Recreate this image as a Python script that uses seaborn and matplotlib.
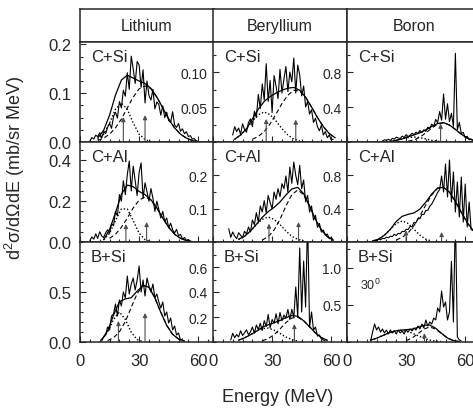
import numpy as np
import matplotlib
matplotlib.use("Agg")
import matplotlib.pyplot as plt
import seaborn as sns
from matplotlib.ticker import MultipleLocator

sns.set_style("ticks")
plt.rcParams['font.family'] = ['Liberation Sans', 'DejaVu Sans']
plt.rcParams['mathtext.fontset'] = 'custom'
plt.rcParams['mathtext.rm'] = 'Liberation Sans'
plt.rcParams['mathtext.default'] = 'regular'
plt.rcParams['axes.linewidth'] = 1.1

elements = ["Lithium", "Beryllium", "Boron"]
systems = ["C+Si", "C+Al", "B+Si"]

# measured spectra, 1 MeV bins starting at spec_start (mb/sr MeV)
spec_li_csi = [.002, .009, .006, .014, .011, .019, .008, .021, .017, .030, .038, .028, .052, .061, .049, .083,
               .070, .106, .094, .142, .108, .176, .150, .120, .165, .158, .112, .148, .080, .125, .095, .086,
               .108, .068, .082, .077, .055, .074, .050, .061, .044, .040, .062, .035, .030, .038, .022, .027,
               .017, .021, .011, .013, .006, .007, .002]
spec_be_csi = [.010, .022, .015, .020, .011, .026, .018, .014, .028, .033, .022, .044, .035, .068, .048, .083,
               .060, .112, .058, .088, .042, .095, .080, .062, .104, .070, .090, .108, .072, .100, .086, .120,
               .070, .110, .096, .066, .080, .050, .058, .040, .046, .028, .034, .022, .016, .024, .010, .015,
               .006, .010, .003, .004]
spec_b_csi = [.012, .025, .020, .030, .018, .042, .033, .055, .046, .040, .068, .050, .085, .062, .078, .100,
              .084, .112, .098, .132, .108, .140, .122, .170, .155, .205, .180, .260, .222, .350, .250, .552,
              .262, .440, .236, .330, .180, 1.02, .140, .225, .098, .110, .050, .066, .025, .035]
spec_li_cal = [.005, .025, .014, .040, .018, .050, .030, .022, .045, .060, .042, .090, .080, .150, .128, .232,
               .200, .300, .232, .330, .397, .250, .372, .300, .228, .340, .388, .214, .290, .246, .200, .262,
               .215, .150, .200, .160, .118, .150, .100, .118, .070, .092, .060, .044, .062, .030, .038, .014,
               .022, .008, .012, .004]
spec_be_cal = [.040, .014, .030, .018, .010, .028, .020, .012, .032, .024, .045, .030, .066, .052, .088, .060,
               .108, .090, .124, .088, .140, .118, .100, .150, .128, .160, .136, .175, .160, .198, .150, .225,
               .176, .240, .200, .172, .230, .160, .186, .120, .140, .090, .108, .066, .080, .044, .056, .030,
               .036, .020, .024, .010, .014, .004]
spec_b_cal = [.012, .022, .016, .034, .026, .044, .040, .058, .050, .070, .064, .092, .078, .104, .098, .128,
              .124, .152, .150, .186, .184, .236, .232, .282, .280, .330, .330, .378, .380, .430, .456, .500,
              .546, .596, .628, .792, .600, .936, .540, .984, .480, .840, .360, .720, .300, .780, .240, .696,
              .180, .480, .144]
spec_li_bsi = [.01, .05, .07, .15, .12, .26, .28, .38, .26, .42, .36, .50, .44, .66, .48, .58, .64, .52, .62,
               .76, .50, .62, .46, .64, .56, .50, .58, .44, .48, .40, .34, .40, .26, .30, .19, .24, .12, .16,
               .07, .09, .02, .03]
spec_be_bsi = [.016, .070, .034, .060, .040, .090, .052, .072, .098, .058, .080, .120, .070, .136, .100, .150,
               .092, .170, .124, .220, .112, .180, .150, .226, .146, .236, .170, .216, .190, .260, .180, .262,
               .196, .440, .200, .752, .240, .648, .280, 1.0, .120, .240, .096, .120, .048, .056, .024, .016,
               .008]
spec_b_bsi = [.014, .135, .243, .162, .203, .135, .176, .122, .162, .108, .162, .122, .149, .108, .162, .122,
              .149, .108, .162, .135, .176, .149, .189, .162, .216, .176, .243, .189, .297, .216, .270, .243,
              .324, .297, .459, .405, .689, .473, .540, .297, .405, 1.09, .270, 1.75, .068, .027, .014]

# fitted components, 3 MeV steps: solid = total, dashed and dotted = sources
fit_li_csi = [.008, .024, .055, .096, .127, .137, .131, .125, .120, .110, .092, .070, .047, .029, .016, .008,
              .003, .001]
dash_li_csi = [.003, .008, .016, .029, .047, .070, .092, .109, .115, .109, .092, .070, .047, .029, .016, .008,
               .003, .001]
dot_li_csi = [.005, .016, .039, .067, .080, .067, .039, .016, .005, .001]

fit_be_csi = [.004, .010, .019, .033, .047, .058, .065, .070, .074, .077, .078, .074, .064, .050, .035, .022,
              .012, .006]
dash_be_csi = [.004, .008, .015, .026, .040, .055, .067, .074, .073, .064, .050, .035, .022, .012, .006]
dot_be_csi = [.004, .010, .019, .030, .039, .043, .039, .030, .019, .010, .004, .002]

fit_b_csi = [.008, .019, .035, .060, .081, .106, .140, .179, .213, .223, .195, .145, .090, .045, .020]
dash_b_csi = [.009, .023, .055, .105, .160, .205, .220, .195, .145, .090, .045, .020]
dot_b_csi = [.008, .019, .035, .051, .058, .051, .035, .019, .008, .003]

fit_li_cal = [.011, .061, .143, .234, .279, .271, .248, .232, .207, .167, .117, .072, .038, .018, .007, .002]
dash_li_cal = [.018, .038, .072, .117, .167, .205, .221, .205, .167, .117, .072, .038, .018, .007, .002]
dot_li_cal = [.011, .043, .105, .162, .162, .105, .043, .011, .002]

fit_be_cal = [.008, .017, .033, .053, .074, .091, .104, .120, .141, .159, .164, .145, .108, .068, .036, .016,
              .006]
dash_be_cal = [.006, .016, .036, .068, .108, .142, .156, .142, .108, .068, .036, .016, .006]
dot_be_cal = [.008, .017, .033, .052, .068, .075, .068, .052, .033, .017, .008, .003]

fit_b_cal = [.010, .034, .082, .152, .247, .308, .332, .349, .395, .479, .576, .648, .656, .598, .488, .356,
             .233, .136]
dash_b_cal = [.025, .056, .110, .197, .313, .445, .565, .644, .656, .598, .488, .356, .233, .136]
dot_b_cal = [.010, .034, .082, .152, .222, .252, .222, .152, .082, .034, .011]

fit_li_bsi = [.024, .111, .268, .402, .431, .443, .508, .568, .547, .442, .297, .166, .077, .030, .010]
dash_li_bsi = [.014, .042, .102, .205, .346, .484, .564, .547, .442, .297, .166, .077, .030, .010]
dot_li_bsi = [.024, .097, .226, .300, .226, .097, .024, .004]

fit_be_bsi = [.015, .033, .058, .086, .118, .138, .154, .172, .195, .212, .206, .170, .122, .072, .035, .014]
dash_be_bsi = [.010, .027, .058, .104, .155, .192, .198, .170, .122, .072, .035, .014]
dot_be_bsi = [.015, .033, .058, .086, .107, .111, .095, .068, .040, .020, .008]

fit_b_bsi = [.026, .051, .085, .120, .147, .159, .166, .173, .197, .225, .229, .186, .117, .053, .019, .005]
dash_b_bsi = [.019, .053, .112, .174, .203, .174, .112, .053, .019, .005]
dot_b_bsi = [.026, .051, .085, .120, .147, .159, .147, .120, .085, .051, .026, .012, .005]

# start energies (MeV), rows = systems, cols = elements
spec_start = [[5, 10, 18], [5, 8, 13], [11, 9, 12]]
fit_start = [[9, 11, 22], [12, 13, 13], [11, 13, 12]]
dash_start = [[9, 20, 31], [15, 25, 25], [14, 25, 30]]
dot_start = [[9, 11, 22], [12, 13, 13], [11, 13, 12]]

# arrows marking source energies: (energy, length)
arrows = [[[(22, .051), (33, .055)], [(27, .033), (42, .032)], [(47.5, .21)]],
          [[(23.3, .088), (33.8, .098)], [(28.4, .055), (43.4, .06)], [(30, .14), (48, .12)]],
          [[(19.5, .21), (33, .29)], [(41.3, .144)], [(39.3, .12)]]]

spectra = [[spec_li_csi, spec_be_csi, spec_b_csi],
           [spec_li_cal, spec_be_cal, spec_b_cal],
           [spec_li_bsi, spec_be_bsi, spec_b_bsi]]
fits = [[fit_li_csi, fit_be_csi, fit_b_csi],
        [fit_li_cal, fit_be_cal, fit_b_cal],
        [fit_li_bsi, fit_be_bsi, fit_b_bsi]]
dashes = [[dash_li_csi, dash_be_csi, dash_b_csi],
          [dash_li_cal, dash_be_cal, dash_b_cal],
          [dash_li_bsi, dash_be_bsi, dash_b_bsi]]
dots = [[dot_li_csi, dot_be_csi, dot_b_csi],
        [dot_li_cal, dot_be_cal, dot_b_cal],
        [dot_li_bsi, dot_be_bsi, dot_b_bsi]]

# axis scales per panel
y_max = [[0.205, 0.143, 1.15], [0.49, 0.30, 1.2], [1.0, 0.8, 1.35]]
y_ticks = [[[0, 0.1, 0.2], [0.05, 0.10], [0.4, 0.8]],
           [[0, 0.2, 0.4], [0.1, 0.2], [0.4, 0.8]],
           [[0, 0.5], [0.2, 0.4, 0.6], [0.5, 1.0]]]
y_labels = [[["0.0", "0.1", "0.2"], ["0.05", "0.10"], ["0.4", "0.8"]],
            [["0.0", "0.2", "0.4"], ["0.1", "0.2"], ["0.4", "0.8"]],
            [["0.0", "0.5"], ["0.2", "0.4", "0.6"], ["0.5", "1.0"]]]
y_minor = [[0.025, 0.025, 0.2], [0.05, 0.05, 0.2], [0.1, 0.1, 0.25]]


def draw(ax, e0, vals, step, **kw):
    e = e0 + step * np.arange(len(vals))
    sns.lineplot(x=e, y=vals, ax=ax, estimator=None, sort=False, color="k", **kw)


W, H = 473.0, 414.0
col_x = [80, 213, 347]
row_top = [43, 143, 243]
pw, ph = 134, 100

fig = plt.figure(figsize=(4.73, 4.14), dpi=100)

# header boxes
for c in range(3):
    hax = fig.add_axes([col_x[c] / W, 1 - 43 / H, pw / W, 33 / H])
    hax.set_xticks([])
    hax.set_yticks([])
    hax.text(0.5, 0.5, elements[c], ha="center", va="center", fontsize=11.5, transform=hax.transAxes)

for r in range(3):
    for c in range(3):
        ax = fig.add_axes([col_x[c] / W, 1 - (row_top[r] + ph) / H, pw / W, ph / H])
        draw(ax, spec_start[r][c], spectra[r][c], 1.0, linewidth=0.8)
        draw(ax, fit_start[r][c], fits[r][c], 3.0, linewidth=0.9)
        draw(ax, dash_start[r][c], dashes[r][c], 3.0, linewidth=0.8, linestyle=(0, (4, 2.5)))
        draw(ax, dot_start[r][c], dots[r][c], 3.0, linewidth=1.0, linestyle=(0, (1, 1.5)))
        for e, h in arrows[r][c]:
            ax.annotate("", xy=(e, h), xytext=(e, 0),
                        arrowprops=dict(arrowstyle="-|>", color="0.3", lw=0.8,
                                        mutation_scale=6, shrinkA=0, shrinkB=0))
        ax.set_xlim(0, 68)
        ax.set_ylim(0, y_max[r][c])
        ax.set_xticks([0, 30, 60])
        ax.xaxis.set_minor_locator(MultipleLocator(5))
        ax.set_yticks(y_ticks[r][c])
        ax.set_yticklabels(y_labels[r][c])
        ax.yaxis.set_minor_locator(MultipleLocator(y_minor[r][c]))
        ax.tick_params(which="both", direction="in", width=0.8)
        ax.tick_params(which="major", length=4)
        ax.tick_params(which="minor", length=2)
        if c == 0:
            ax.tick_params(axis="y", labelsize=12, pad=6)
        else:
            ax.tick_params(axis="y", labelsize=10, pad=4)
        if r == 2:
            ax.set_xticklabels(["0", "30", "60"])
            ax.tick_params(axis="x", labelsize=12, pad=8)
        else:
            ax.set_xticklabels([])
        ax.set_xlabel("")
        ax.set_ylabel("")
        ax.text(0.08, 0.93, systems[r], ha="left", va="top", fontsize=12, transform=ax.transAxes)
        if r == 2 and c == 2:
            ax.text(0.1, 0.58, "30$^0$", ha="left", va="center", fontsize=9, transform=ax.transAxes)

fig.text(0.032, 0.595, "d$^2$σ/dΩdE (mb/sr MeV)", rotation=90, ha="center", va="center", fontsize=13)
fig.text(0.588, 0.039, "Energy (MeV)", ha="center", va="center", fontsize=13)

fig.savefig("out.png", dpi=100)
